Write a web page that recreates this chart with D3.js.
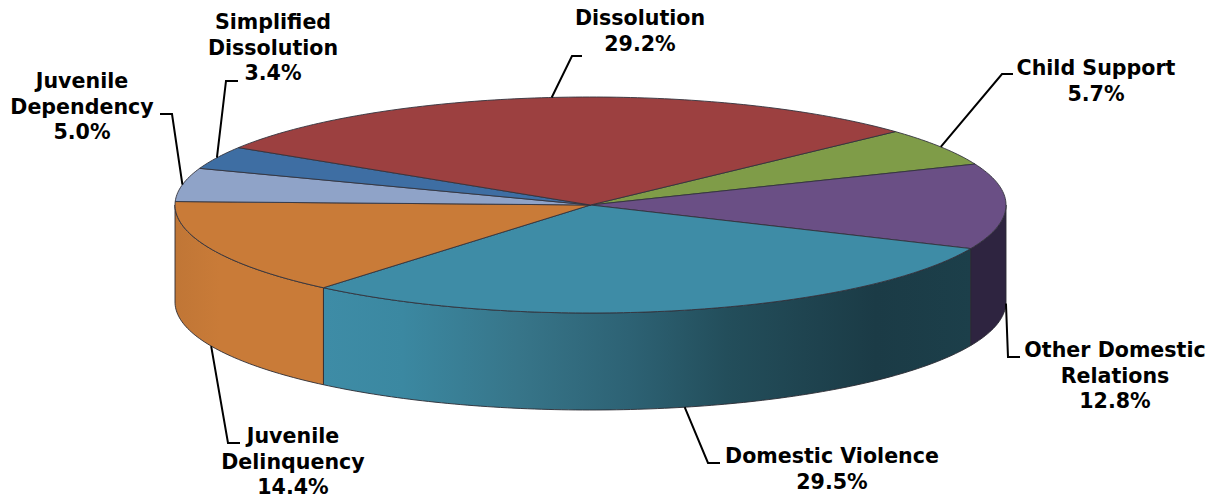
<!DOCTYPE html>
<html>
<head>
<meta charset="utf-8">
<script src="https://cdnjs.cloudflare.com/ajax/libs/d3/7.8.5/d3.min.js"></script>
<style>
  html, body { margin: 0; padding: 0; background: #fff; }
  svg { display: block; }
  text { font-family: "DejaVu Sans", Verdana, sans-serif; font-weight: bold; font-size: 20.6px; fill: #000; }
</style>
</head>
<body>
<div id="chart"></div>
<script>
// slices clockwise, starting from the top right edge of Dissolution
const categories = ["Child Support", "Other Domestic Relations", "Domestic Violence", "Juvenile Delinquency", "Juvenile Dependency", "Simplified Dissolution", "Dissolution"];
const values = [5.7, 12.8, 29.5, 14.4, 5.0, 3.4, 29.2];
const topColors = ["#7f9c48", "#6a4f85", "#3e8ca6", "#c97b38", "#8fa3c8", "#3e6ea3", "#9c4040"];

// label layout, same order as categories
const labelLines = [["Child Support"], ["Other Domestic", "Relations"], ["Domestic Violence"], ["Juvenile", "Delinquency"], ["Juvenile", "Dependency"], ["Simplified", "Dissolution"], ["Dissolution"]];
const labelX = [1096, 1115, 832, 293, 82, 273, 640];
const labelY = [75, 357, 463, 443, 88, 29, 25];
const elbows = [[[1002, 74], [1013, 74]], [[1008, 357], [1020, 357]], [[708, 463], [720, 463]], [[228, 443], [240, 443]], [[172, 114], [160, 114]], [[226, 81], [238, 81]], [[572, 56], [582, 56]]];

const width = 1219, height = 497;
const depth = 97;
const startAngle = 47.2 * Math.PI / 180;

const x = d3.scaleLinear().domain([-1, 1]).range([175, 1006]);
const y = d3.scaleLinear().domain([-1, 1]).range([97, 313]);

// angle is clockwise from 12 o'clock
const rim = (a, dy = 0) => [x(Math.sin(a)), y(-Math.cos(a)) + dy];
const line = d3.line();

const steps = (a0, a1) => {
  const n = Math.max(2, Math.ceil((a1 - a0) * 60));
  return d3.range(n + 1).map(i => a0 + (a1 - a0) * i / n);
};

const pie = d3.pie().sort(null).value(d => d)
  .startAngle(startAngle).endAngle(startAngle + 2 * Math.PI);
const slices = pie(values);

const svg = d3.select("#chart").append("svg").attr("width", width).attr("height", height);
const defs = svg.append("defs");

function grad(id, x1, x2, stops) {
  const g = defs.append("linearGradient").attr("id", id)
    .attr("gradientUnits", "userSpaceOnUse")
    .attr("x1", x1).attr("x2", x2).attr("y1", 0).attr("y2", 0);
  stops.forEach(s => g.append("stop").attr("offset", s[0]).attr("stop-color", s[1]));
}
grad("wall-dv", x(-0.64), x(0.92), [[0, "#3e8ca6"], [0.12, "#3b88a1"], [0.3, "#377589"], [0.47, "#2d6274"], [0.62, "#234e5b"], [0.85, "#1b3b46"], [1, "#1c3f4a"]]);
grad("wall-jd", x(-1), x(-0.64), [[0, "#c07636"], [0.3, "#c97b38"], [1, "#c97b38"]]);

const wallFill = ["none", "#2e2440", "url(#wall-dv)", "url(#wall-jd)", "none", "none", "none"];

// outer walls, only the front half of the disc is visible
const front0 = Math.PI / 2, front1 = 3 * Math.PI / 2;
const walls = slices.map((s, i) => {
  const a0 = Math.max(s.startAngle, front0), a1 = Math.min(s.endAngle, front1);
  return { a0, a1, i };
}).filter(w => w.a1 > w.a0);

svg.append("g").selectAll("path").data(walls).join("path")
  .attr("d", w => {
    const as = steps(w.a0, w.a1);
    return line(as.map(a => rim(a)).concat(as.reverse().map(a => rim(a, depth)))) + "Z";
  })
  .attr("fill", w => wallFill[w.i])
  .attr("stroke", "#2b2b33")
  .attr("stroke-width", 0.9)
  .attr("stroke-linejoin", "round");

// top face
const centre = [x(0), y(0)];
svg.append("g").selectAll("path").data(slices).join("path")
  .attr("d", s => line([centre].concat(steps(s.startAngle, s.endAngle).map(a => rim(a)))) + "Z")
  .attr("fill", (s, i) => topColors[i])
  .attr("stroke", "#33333d")
  .attr("stroke-width", 0.9)
  .attr("stroke-linejoin", "round");

// leaders start at the slice midpoint on the rim, on the lower edge for the front slices
const anchor = s => {
  const mid = (s.startAngle + s.endAngle) / 2;
  return rim(mid, Math.cos(mid) <= 0 ? depth : 0);
};

svg.append("g").selectAll("path").data(slices).join("path")
  .attr("d", (s, i) => line([anchor(s)].concat(elbows[i])))
  .attr("fill", "none")
  .attr("stroke", "#000")
  .attr("stroke-width", 2);

const labels = svg.append("g").selectAll("text").data(values).join("text")
  .attr("text-anchor", "middle")
  .attr("transform", (d, i) => `translate(${labelX[i]},${labelY[i]})`);

labels.each(function (d, i) {
  const t = d3.select(this);
  labelLines[i].concat([d.toFixed(1) + "%"]).forEach((txt, k) => {
    t.append("tspan").attr("x", 0).attr("y", k * 25.7).text(txt);
  });
});
</script>
</body>
</html>
